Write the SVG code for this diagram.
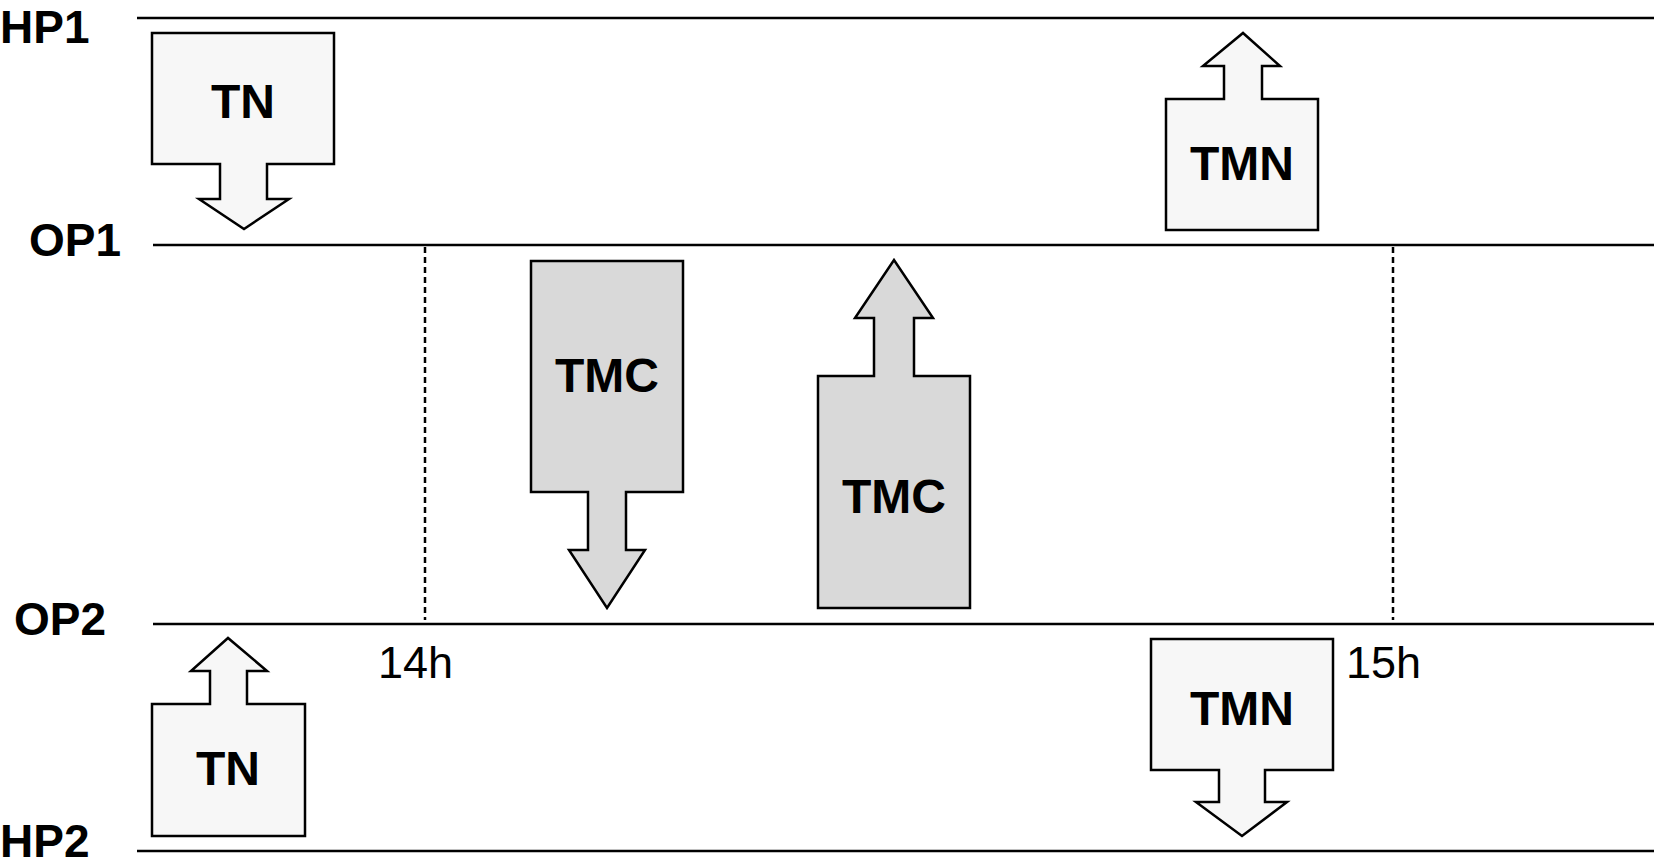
<svg xmlns="http://www.w3.org/2000/svg" width="1654" height="864" viewBox="0 0 1654 864">
<style>
.lane{stroke:#000;stroke-width:2.5;fill:none}
.dash{stroke:#000;stroke-width:2.5;stroke-dasharray:6 4;fill:none}
.light{fill:#f7f7f7;stroke:#000;stroke-width:2.5;stroke-linejoin:miter}
.gray{fill:#d9d9d9;stroke:#000;stroke-width:2.5;stroke-linejoin:miter}
.lbl{font-family:"Liberation Sans",Arial,sans-serif;font-weight:bold;font-size:46px;fill:#000}
.nt{font-family:"Liberation Sans",Arial,sans-serif;font-weight:bold;font-size:48px;fill:#000;text-anchor:middle}
.tm{font-family:"Liberation Sans",Arial,sans-serif;font-size:45px;fill:#000}
</style>
<rect width="1654" height="864" fill="#fff"/>
<g id="lanes">
<line class="lane" x1="137" y1="18" x2="1654" y2="18"/>
<line class="lane" x1="153" y1="245" x2="1654" y2="245"/>
<line class="lane" x1="153" y1="624" x2="1654" y2="624"/>
<line class="lane" x1="137" y1="851" x2="1654" y2="851"/>
<text class="lbl" x="0" y="43">HP1</text>
<text class="lbl" x="29" y="256">OP1</text>
<text class="lbl" x="14" y="635">OP2</text>
<text class="lbl" x="0" y="857">HP2</text>
</g>
<g id="connectors">
<line class="dash" x1="425" y1="247" x2="425" y2="620"/>
<line class="dash" x1="1393" y1="247" x2="1393" y2="620"/>
</g>
<g id="time-labels">
<text class="tm" x="378" y="678">14h</text>
<text class="tm" x="1346" y="678">15h</text>
</g>
<g id="tn-top">
<path class="light" d="M152,33 H334 V164 H267 V199 H289 L244,229 L199,199 H220 V164 H152 Z"/>
<text class="nt" x="243" y="118">TN</text>
</g>
<g id="tmn-top">
<path class="light" d="M1166,230 H1318 V99 H1262 V66 H1280 L1243,33 L1203,66 H1224 V99 H1166 Z"/>
<text class="nt" x="1242" y="180">TMN</text>
</g>
<g id="tmc-down">
<path class="gray" d="M531,261 H683 V492 H626 V550 H645 L607,608 L569,550 H588 V492 H531 Z"/>
<text class="nt" x="607" y="392">TMC</text>
</g>
<g id="tmc-up">
<path class="gray" d="M818,608 H970 V376 H914 V318 H933 L894,260 L855,318 H874 V376 H818 Z"/>
<text class="nt" x="894" y="513">TMC</text>
</g>
<g id="tn-bottom">
<path class="light" d="M152,836 H305 V704 H247 V671 H267 L228,638 L191,671 H210 V704 H152 Z"/>
<text class="nt" x="228" y="785">TN</text>
</g>
<g id="tmn-bottom">
<path class="light" d="M1151,639 H1333 V770 H1265 V802 H1287 L1242,836 L1196,802 H1219 V770 H1151 Z"/>
<text class="nt" x="1242" y="725">TMN</text>
</g>
</svg>
